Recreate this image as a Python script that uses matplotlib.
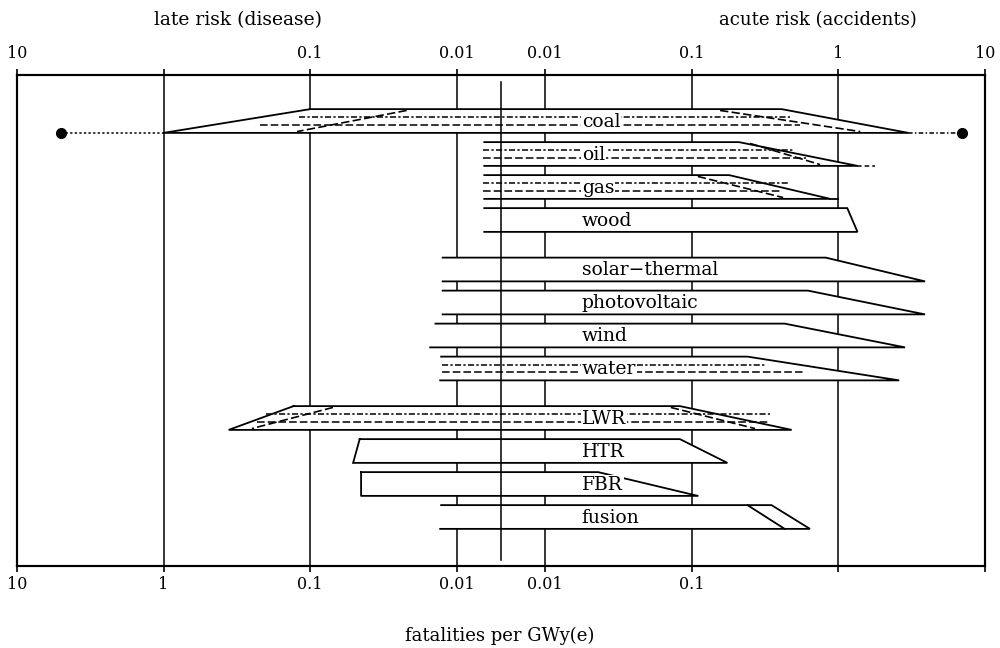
import numpy as np
import matplotlib
matplotlib.use('Agg')
import matplotlib.pyplot as plt

plt.rcParams['font.family'] = ['DejaVu Serif']

# energy systems, top to bottom, in three groups
groups = [['coal', 'oil', 'gas', 'wood'],
          ['solar\u2212thermal', 'photovoltaic', 'wind', 'water'],
          ['LWR', 'HTR', 'FBR', 'fusion']]

# late risk (disease) at the left end of each band: bottom edge / top edge
late_bottom = [1.0, 0.0065, 0.0065, 0.0065, 0.0125, 0.0125, 0.0152, 0.013, 0.36, 0.051, 0.045, 0.013]
late_top = [0.1, 0.0065, 0.0065, 0.0065, 0.0125, 0.0125, 0.014, 0.0128, 0.13, 0.046, 0.045, 0.0128]
# acute risk (accidents) at the right end: top edge / bottom edge
acute_top = [0.41, 0.21, 0.18, 1.15, 0.82, 0.62, 0.43, 0.24, 0.083, 0.083, 0.023, 0.35]
acute_bottom = [3.0, 1.35, 0.88, 1.35, 3.9, 3.9, 2.85, 2.6, 0.48, 0.175, 0.11, 0.64]
closed_left = ['coal', 'LWR', 'HTR', 'FBR']

# dashed inner ranges (late value where they start, acute value where they end)
dash_names = ['coal', 'oil', 'gas', 'water', 'LWR']
dash_up_late = [0.12, 0.0066, 0.0066, 0.0126, 0.2]
dash_up_acute = [0.47, 0.5, 0.45, 0.32, 0.34]
dash_lo_late = [0.22, 0.0066, 0.0066, 0.0126, 0.23]
dash_lo_acute = [0.55, 0.6, 0.4, 0.57, 0.34]

# dashed inner slants
diag_names = ['coal', 'coal', 'oil', 'gas', 'LWR', 'LWR']
diag_side = ['late', 'acute', 'acute', 'acute', 'late', 'acute']
diag_top = [0.022, 0.156, 0.25, 0.11, 0.07, 0.072]
diag_bottom = [0.123, 1.41, 0.75, 0.42, 0.25, 0.27]

coal_late_max = 5.0
coal_acute_max = 7.0
oil_acute_ext = 1.78
gas_bottom_ext = 1.0
fusion_inner = (0.24, 0.43)

ticks = [-10, -1, -0.1, -0.01, 0.01, 0.1, 1, 10]
top_labels = ['10', '', '0.1', '0.01', '0.01', '0.1', '1', '10']
bottom_labels = ['10', '1', '0.1', '0.01', '0.01', '0.1', '', '']

# late risk is stored as negative x, acute risk as positive x;
# both log axes meet at 0.005
C = np.log10(0.005)


def fwd(x):
    x = np.asarray(x, dtype=float)
    a = np.abs(x)
    a = np.where(a > 0, a, 1e-12)
    return np.where(x >= 0, np.log10(a), 2 * C - np.log10(a))


def inv(u):
    u = np.asarray(u, dtype=float)
    return np.where(u >= C, 10.0 ** u, -10.0 ** (2 * C - u))


def xval(v, side):
    return -v if side == 'late' else v


sources = [s for g in groups for s in g]
ypos = []
y = 0.0
for g in groups:
    for s in g:
        ypos.append(y)
        y += 1
    y += 0.5
h = 0.36

top_px, bot_px = 75, 566
fig = plt.figure(figsize=(10, 6.48), dpi=100)
ax = fig.add_axes([0.017, 1 - bot_px / 648, 0.968, (bot_px - top_px) / 648])
ax.set_xscale('function', functions=(fwd, inv))
ax.set_xlim(-10, 10)
ax.set_ylim((bot_px - 121) / 33, (top_px - 121) / 33)

lw = 1.3
for v in [1, 0.1, 0.01]:
    ax.axvline(-v, color='k', lw=1.1, zorder=1)
    ax.axvline(v, color='k', lw=1.1, zorder=1)
ax.axvline(0.005, ymin=0.012, ymax=0.985, color='k', lw=1.1, zorder=6)

for i, name in enumerate(sources):
    y = ypos[i]
    xs = [-late_top[i], acute_top[i], acute_bottom[i], -late_bottom[i]]
    ys = [y - h, y - h, y + h, y + h]
    ax.fill(xs, ys, color='white', lw=0, zorder=2)
    if name in closed_left:
        ax.plot(xs + [xs[0]], ys + [ys[0]], color='k', lw=lw, zorder=3,
                solid_joinstyle='round' if name == 'FBR' else 'miter')
    else:
        ax.plot(xs, ys, color='k', lw=lw, zorder=3, solid_joinstyle='miter')
    ax.text(0.0178, y + 0.02, name, ha='left', va='center', fontsize=13.5, zorder=5,
            bbox=dict(fc='white', ec='none', pad=0.8))

styles = [(0, (4, 1.5, 1.5, 1.5)), (0, (5, 2))]
for j, name in enumerate(dash_names):
    y = ypos[sources.index(name)]
    ax.plot([-dash_up_late[j], dash_up_acute[j]], [y - 0.12, y - 0.12],
            color='k', lw=1.1, ls=styles[0], zorder=4)
    ax.plot([-dash_lo_late[j], dash_lo_acute[j]], [y + 0.12, y + 0.12],
            color='k', lw=1.1, ls=styles[1], zorder=4)

for j, name in enumerate(diag_names):
    y = ypos[sources.index(name)]
    ax.plot([xval(diag_top[j], diag_side[j]), xval(diag_bottom[j], diag_side[j])],
            [y - h + 0.04, y + h - 0.04], color='k', lw=1.2, ls=(0, (5, 2)), zorder=4)

# coal: full range shown by dots
i = sources.index('coal')
y = ypos[i]
ax.plot([-coal_late_max, -late_bottom[i]], [y + h, y + h], color='k', lw=1.1,
        ls=(0, (1.5, 1.5)), zorder=3)
ax.plot([acute_bottom[i], coal_acute_max], [y + h, y + h], color='k', lw=1.1,
        ls=(0, (3, 1.5, 1, 1.5)), zorder=3)
ax.plot([-coal_late_max, coal_acute_max], [y + h, y + h], 'o', color='k', ms=7,
        ls='none', zorder=4)

# oil: dashed extension
i = sources.index('oil')
y = ypos[i]
ax.plot([acute_bottom[i], oil_acute_ext], [y + h, y + h], color='k', lw=1.1,
        ls=(0, (3, 2)), zorder=3)

# gas: bottom edge runs on
i = sources.index('gas')
y = ypos[i]
ax.plot([acute_bottom[i], gas_bottom_ext], [y + h, y + h], color='k', lw=lw, zorder=3)

# fusion: inner slant
i = sources.index('fusion')
y = ypos[i]
ax.plot([fusion_inner[0], fusion_inner[1]], [y - h, y + h], color='k', lw=lw, zorder=3)

for sp in ax.spines.values():
    sp.set_linewidth(1.5)
ax.set_yticks([])
ax.set_xticks(ticks)
ax.set_xticklabels(bottom_labels)
ax.tick_params(axis='x', direction='out', length=4.5, width=1.2, pad=3, labelsize=11.5)

ax2 = ax.twiny()
ax2.set_xscale('function', functions=(fwd, inv))
ax2.set_xlim(-10, 10)
ax2.set_xticks(ticks)
ax2.set_xticklabels(top_labels)
ax2.tick_params(axis='x', direction='out', length=4.5, width=1.2, pad=5, labelsize=11.5)
for sp in ax2.spines.values():
    sp.set_linewidth(1.5)

fig.text(0.238, 1 - 20 / 648, 'late risk (disease)', ha='center', va='center', fontsize=13.5)
fig.text(0.818, 1 - 20 / 648, 'acute risk (accidents)', ha='center', va='center', fontsize=13)
fig.text(0.5, 1 - 636 / 648, 'fatalities per GWy(e)', ha='center', va='center', fontsize=13)

fig.savefig('out.png', dpi=100)
